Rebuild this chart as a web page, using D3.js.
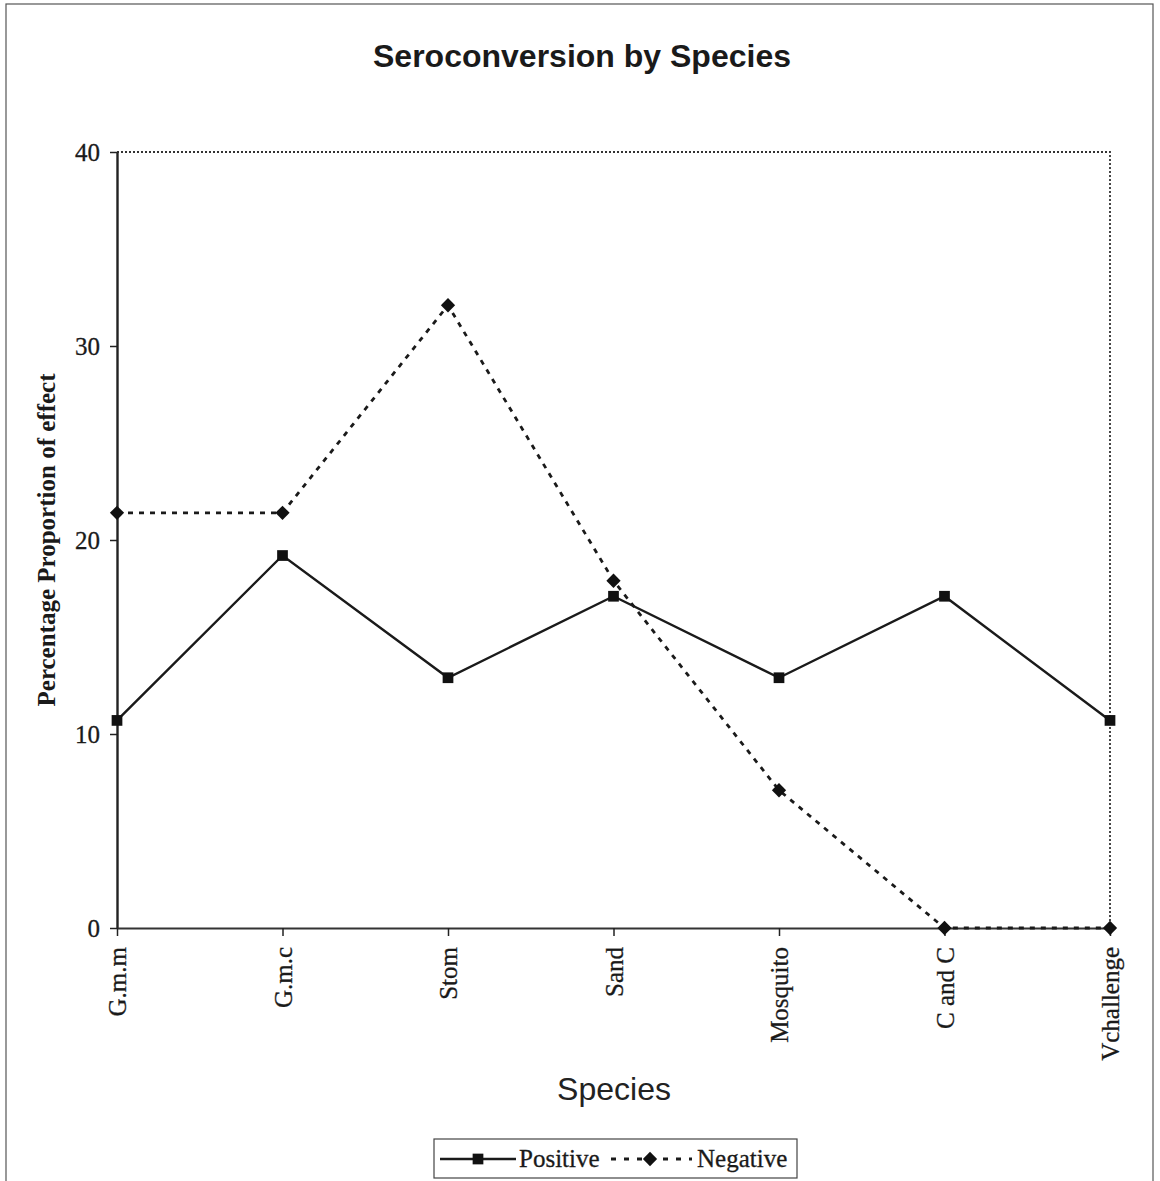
<!DOCTYPE html>
<html>
<head>
<meta charset="utf-8">
<script src="https://cdn.jsdelivr.net/npm/d3@7"></script>
<style>
  body { margin: 0; background: #fff; }
  svg { display: block; }
</style>
</head>
<body>
<svg id="chart" width="1160" height="1181"></svg>
<script>
const species = ["G.m.m", "G.m.c", "Stom", "Sand", "Mosquito", "C and C", "Vchallenge"];
const positive = [10.7, 19.2, 12.9, 17.1, 12.9, 17.1, 10.7];
const negative = [21.4, 21.4, 32.1, 17.9, 7.1, 0, 0];
const yTicks = [0, 10, 20, 30, 40];

const svg = d3.select("#chart");
const serif = "'Liberation Serif', 'Times New Roman', serif";
const sans = "'Liberation Sans', Arial, sans-serif";

// outer frame of the scanned figure
svg.append("rect")
    .attr("x", 6).attr("y", 4)
    .attr("width", 1147).attr("height", 1190)
    .attr("fill", "none").attr("stroke", "#555").attr("stroke-width", 1.2);

const x = d3.scalePoint().domain(species).range([117, 1110]).padding(0);
const y = d3.scaleLinear().domain([0, 40]).range([928, 152]);

// dotted plot area top & right
svg.append("path")
    .attr("d", `M${x.range()[0]},${y(40)}H${x.range()[1]}V${y(0)}`)
    .attr("fill", "none").attr("stroke", "#333")
    .attr("stroke-width", 1.8).attr("stroke-dasharray", "2,2");

// y axis
const yAxis = svg.append("g")
    .attr("transform", `translate(${x.range()[0]},0)`)
    .call(d3.axisLeft(y).tickValues(yTicks).tickSize(7).tickPadding(10).tickSizeOuter(0));
yAxis.select(".domain").attr("stroke", "#222").attr("stroke-width", 2.4);
yAxis.selectAll(".tick line").attr("stroke", "#222").attr("stroke-width", 1.5);
yAxis.selectAll("text")
    .attr("font-family", serif).attr("font-size", 25).attr("fill", "#1a1a1a")
    .attr("stroke", "#1a1a1a").attr("stroke-width", 0.3);

// x axis
const xAxis = svg.append("g")
    .attr("transform", `translate(0,${y(0)})`)
    .call(d3.axisBottom(x).tickSize(8).tickSizeOuter(0));
xAxis.select(".domain").attr("stroke", "#333").attr("stroke-width", 1.8);
xAxis.selectAll(".tick line").attr("stroke", "#222").attr("stroke-width", 1.5);
xAxis.selectAll("text")
    .attr("font-family", serif).attr("font-size", 25).attr("fill", "#1a1a1a")
    .attr("stroke", "#1a1a1a").attr("stroke-width", 0.3)
    .attr("text-anchor", "end")
    .attr("transform", "rotate(-90)")
    .attr("x", -19).attr("y", 0).attr("dy", "0.35em");

// titles
svg.append("text")
    .attr("x", 582).attr("y", 67)
    .attr("text-anchor", "middle")
    .attr("font-family", sans).attr("font-size", 32).attr("font-weight", "bold")
    .attr("fill", "#1a1a1a")
    .text("Seroconversion by Species");

svg.append("text")
    .attr("x", 614).attr("y", 1100)
    .attr("text-anchor", "middle")
    .attr("font-family", sans).attr("font-size", 32)
    .attr("fill", "#222")
    .text("Species");

svg.append("text")
    .attr("transform", `translate(55,${(y(0) + y(40)) / 2}) rotate(-90)`)
    .attr("text-anchor", "middle")
    .attr("font-family", serif).attr("font-size", 25).attr("font-weight", "bold")
    .attr("fill", "#1a1a1a")
    .text("Percentage Proportion of effect");

// series
const line = d3.line().x((d, i) => x(species[i])).y(d => y(d));

svg.append("path")
    .datum(negative)
    .attr("d", line)
    .attr("fill", "none").attr("stroke", "#1a1a1a")
    .attr("stroke-width", 2.8).attr("stroke-dasharray", "5,6");

svg.append("path")
    .datum(positive)
    .attr("d", line)
    .attr("fill", "none").attr("stroke", "#1a1a1a").attr("stroke-width", 2.4);

const diamond = d3.symbol().type(d3.symbolDiamond2).size(130);
const square = d3.symbol().type(d3.symbolSquare).size(115);

svg.selectAll(".neg")
    .data(negative)
    .enter().append("path")
    .attr("class", "neg")
    .attr("d", diamond)
    .attr("transform", (d, i) => `translate(${x(species[i])},${y(d)})`)
    .attr("fill", "#111");

svg.selectAll(".pos")
    .data(positive)
    .enter().append("path")
    .attr("class", "pos")
    .attr("d", square)
    .attr("transform", (d, i) => `translate(${x(species[i])},${y(d)})`)
    .attr("fill", "#111");

// legend
const lg = svg.append("g").attr("transform", "translate(434,1139)");
lg.append("rect")
    .attr("width", 363).attr("height", 39)
    .attr("fill", "#fff").attr("stroke", "#444").attr("stroke-width", 1.2);
lg.append("line")
    .attr("x1", 6).attr("x2", 82).attr("y1", 20).attr("y2", 20)
    .attr("stroke", "#1a1a1a").attr("stroke-width", 2.4);
lg.append("path").attr("d", square).attr("transform", "translate(44,20)").attr("fill", "#111");
lg.append("text")
    .attr("x", 85).attr("y", 28)
    .attr("font-family", serif).attr("font-size", 25).attr("fill", "#1a1a1a")
    .attr("stroke", "#1a1a1a").attr("stroke-width", 0.3)
    .text("Positive");
lg.append("line")
    .attr("x1", 177).attr("x2", 258).attr("y1", 20).attr("y2", 20)
    .attr("stroke", "#1a1a1a").attr("stroke-width", 2.8).attr("stroke-dasharray", "5,8");
lg.append("path").attr("d", diamond).attr("transform", "translate(216,20)").attr("fill", "#111");
lg.append("text")
    .attr("x", 263).attr("y", 28)
    .attr("font-family", serif).attr("font-size", 25).attr("fill", "#1a1a1a")
    .attr("stroke", "#1a1a1a").attr("stroke-width", 0.3)
    .text("Negative");
</script>
</body>
</html>
